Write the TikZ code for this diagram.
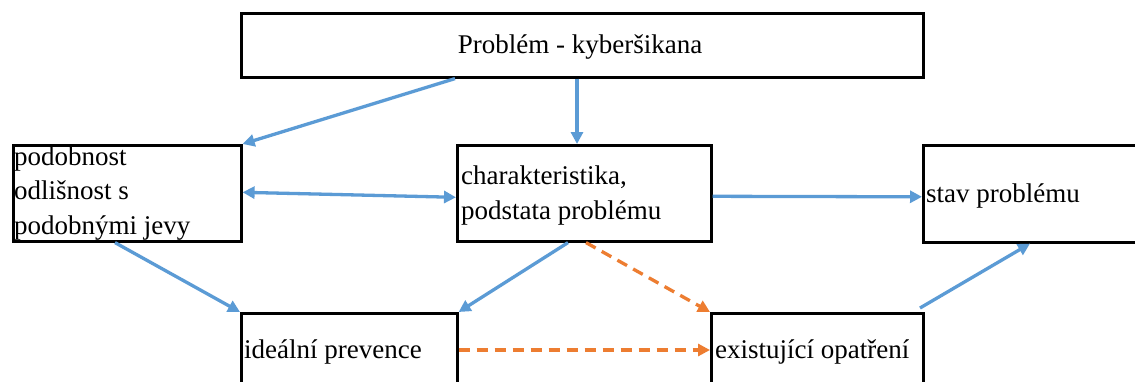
\documentclass[tikz,border=0pt]{standalone}
\usepackage{fontspec}
\setmainfont{Liberation Serif}
\usetikzlibrary{arrows.meta}
\definecolor{cblue}{HTML}{5B9BD5}
\definecolor{corange}{HTML}{ED7D31}
\tikzset{
  box/.style={draw=black, line width=2.6pt, rectangle, inner sep=0pt, anchor=north west},
  txt/.style={inner sep=0pt, font=\fontsize{27}{34.5}\selectfont, align=left},
  conn/.style={draw=cblue, line width=3.3pt, -{Triangle[length=12pt,width=12pt]}},
  dconn/.style={draw=corange, line width=3.3pt, dash pattern=on 11pt off 7pt, -{Triangle[length=12pt,width=12pt]}},
}
\begin{document}
\begin{tikzpicture}[x=1pt,y=-1pt]
\clip (0,0) rectangle (1135,381);
\fill[white] (0,0) rectangle (1135,381);
% boxes
\node[box, minimum width=682pt, minimum height=64pt] (top) at (240,12) {};
\node[box, minimum width=228pt, minimum height=96pt] (left) at (12,144) {};
\node[box, minimum width=254pt, minimum height=96pt] (center) at (456,144) {};
\node[box, minimum width=240pt, minimum height=97pt] (right) at (922,144) {};
\node[box, minimum width=216pt, minimum height=100pt] (botL) at (240,312) {};
\node[box, minimum width=212pt, minimum height=100pt] (botR) at (710,312) {};
% texts
\node[txt, anchor=base] (ttop) at (580,53) {Problém - kyberšikana};
\node[txt, anchor=north west] (tleft) at (14,146.5) {podobnost\\odlišnost s\\podobnými jevy};
\node[txt, anchor=north west] (tcenter) at (461,166) {charakteristika,\\podstata problému};
\node[txt, anchor=base west] (tright) at (926,202) {stav problému};
\node[txt, anchor=base west] (tbotL) at (244,358) {ideální prevence};
\node[txt, anchor=base west] (tbotR) at (715,358) {existující opatření};
% connectors
\draw[conn] ([xshift=215pt]top.south west) -- (left.north east);
\draw[conn] ([xshift=337pt]top.south west) -- ([xshift=121pt]center.north west);
\draw[conn, {Triangle[length=12pt,width=12pt]}-{Triangle[length=12pt,width=12pt]}] ([yshift=1pt]left.east) -- ([yshift=-4pt]center.west);
\draw[conn] ([yshift=-3pt]center.east) -- ([yshift=-3pt]right.west);
\draw[conn] ([xshift=103pt]left.south west) -- (botL.north west);
\draw[conn] ([xshift=112pt]center.south west) -- (botL.north east);
\draw[dconn] ([xshift=130pt]center.south west) -- (botR.north west);
\draw[dconn] ([yshift=-38pt]botL.north east) -- ([yshift=-38pt]botR.north west);
\draw[conn] ([xshift=210pt,yshift=4pt]botR.north west) -- ([xshift=108pt]right.south west);
\end{tikzpicture}
\end{document}
